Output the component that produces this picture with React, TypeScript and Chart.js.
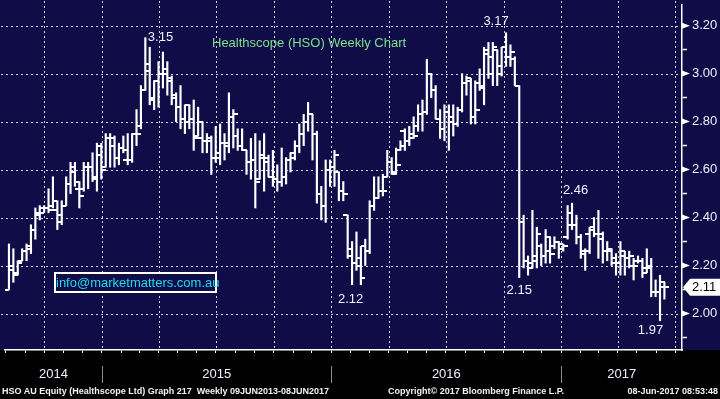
import React, { useEffect, useRef } from 'react';
import { Chart, registerables } from 'chart.js';

Chart.register(...registerables);

// ---------- data (weekly OHLC, Healthscope HSO, from listing Aug 2014 to Jun 2017) ----------
const opens = [
  2.10, 2.18, 2.17, 2.22, 2.26, 2.28, 2.35, 2.41, 2.44, 2.44,
  2.45, 2.43, 2.41, 2.45, 2.54, 2.59, 2.52, 2.52, 2.61, 2.61,
  2.56, 2.66, 2.61, 2.73, 2.70, 2.65, 2.69, 2.64, 2.64, 2.75,
  2.78, 2.93, 3.01, 2.90, 2.97, 3.00, 3.02, 2.98, 2.90, 2.86,
  2.81, 2.87, 2.81, 2.74, 2.73, 2.72, 2.73, 2.65, 2.67, 2.71,
  2.70, 2.82, 2.74, 2.70, 2.68, 2.63, 2.64, 2.56, 2.66, 2.65,
  2.57, 2.56, 2.55, 2.57, 2.64, 2.67, 2.70, 2.75, 2.80, 2.83,
  2.75, 2.50, 2.45, 2.60, 2.61, 2.59, 2.51, 2.41, 2.27, 2.21,
  2.20, 2.28, 2.26, 2.45, 2.48, 2.51, 2.57, 2.63, 2.59, 2.68,
  2.76, 2.72, 2.75, 2.78, 2.83, 2.84, 3.00, 2.93, 2.81, 2.77,
  2.84, 2.80, 2.79, 2.85, 2.96, 2.97, 2.82, 2.96, 2.95, 3.08,
  3.00, 3.10, 3.00, 3.11, 3.07, 3.06, 2.95, 2.38, 2.22, 2.21,
  2.24, 2.28, 2.24, 2.26, 2.28, 2.30, 2.27, 2.32, 2.42, 2.37,
  2.32, 2.25, 2.33, 2.36, 2.33, 2.31, 2.26, 2.26, 2.21, 2.21,
  2.24, 2.23, 2.20, 2.22, 2.22, 2.19, 2.19, 2.09, 2.09, 2.11,
];
const highs = [
  2.29, 2.27, 2.22, 2.27, 2.29, 2.37, 2.44, 2.45, 2.45, 2.52,
  2.57, 2.47, 2.47, 2.57, 2.63, 2.63, 2.55, 2.63, 2.63, 2.67,
  2.71, 2.71, 2.75, 2.75, 2.74, 2.71, 2.74, 2.75, 2.75, 2.85,
  2.95, 3.15, 3.11, 2.97, 3.05, 3.09, 3.05, 2.99, 2.92, 2.95,
  2.87, 2.87, 2.89, 2.86, 2.80, 2.75, 2.74, 2.78, 2.79, 2.75,
  2.92, 2.85, 2.77, 2.77, 2.68, 2.73, 2.75, 2.72, 2.75, 2.66,
  2.68, 2.62, 2.69, 2.65, 2.67, 2.72, 2.79, 2.83, 2.88, 2.83,
  2.76, 2.53, 2.64, 2.64, 2.68, 2.59, 2.55, 2.41, 2.30, 2.34,
  2.28, 2.31, 2.47, 2.57, 2.57, 2.58, 2.68, 2.65, 2.69, 2.72,
  2.77, 2.78, 2.82, 2.87, 2.89, 3.06, 3.00, 2.95, 2.85, 2.87,
  2.87, 2.87, 2.86, 3.00, 2.99, 2.98, 2.97, 3.02, 3.11, 3.13,
  3.13, 3.10, 3.11, 3.17, 3.12, 3.07, 2.95, 2.41, 2.24, 2.43,
  2.36, 2.29, 2.35, 2.32, 2.32, 2.30, 2.29, 2.45, 2.46, 2.41,
  2.33, 2.27, 2.36, 2.40, 2.43, 2.34, 2.30, 2.27, 2.25, 2.30,
  2.26, 2.26, 2.23, 2.24, 2.23, 2.27, 2.23, 2.14, 2.16, 2.13,
];
const lows = [
  2.10, 2.13, 2.16, 2.22, 2.22, 2.25, 2.31, 2.39, 2.42, 2.42,
  2.44, 2.35, 2.37, 2.45, 2.50, 2.53, 2.44, 2.51, 2.52, 2.55,
  2.51, 2.56, 2.61, 2.61, 2.61, 2.62, 2.67, 2.62, 2.63, 2.70,
  2.77, 2.93, 2.87, 2.85, 2.86, 2.94, 2.91, 2.87, 2.80, 2.77,
  2.75, 2.77, 2.68, 2.74, 2.67, 2.67, 2.58, 2.63, 2.62, 2.64,
  2.67, 2.69, 2.68, 2.68, 2.58, 2.56, 2.44, 2.56, 2.51, 2.57,
  2.53, 2.51, 2.53, 2.54, 2.59, 2.64, 2.67, 2.70, 2.76, 2.64,
  2.46, 2.39, 2.38, 2.53, 2.53, 2.47, 2.47, 2.23, 2.12, 2.18,
  2.12, 2.20, 2.25, 2.43, 2.48, 2.49, 2.57, 2.58, 2.58, 2.68,
  2.68, 2.70, 2.73, 2.76, 2.76, 2.83, 2.90, 2.81, 2.73, 2.72,
  2.68, 2.74, 2.78, 2.84, 2.91, 2.79, 2.79, 2.93, 2.87, 2.98,
  2.95, 2.95, 2.99, 3.03, 3.03, 2.95, 2.15, 2.19, 2.16, 2.19,
  2.19, 2.20, 2.21, 2.21, 2.27, 2.23, 2.26, 2.31, 2.35, 2.29,
  2.23, 2.18, 2.25, 2.32, 2.23, 2.21, 2.22, 2.20, 2.16, 2.16,
  2.16, 2.19, 2.14, 2.21, 2.15, 2.17, 2.07, 2.07, 1.97, 2.06,
];
const closes = [
  2.20, 2.16, 2.21, 2.26, 2.27, 2.35, 2.42, 2.42, 2.44, 2.43,
  2.47, 2.38, 2.45, 2.54, 2.61, 2.55, 2.49, 2.61, 2.61, 2.57,
  2.70, 2.60, 2.73, 2.73, 2.65, 2.69, 2.68, 2.64, 2.75, 2.75,
  2.93, 3.04, 2.89, 2.97, 3.00, 3.00, 2.97, 2.91, 2.86, 2.81,
  2.80, 2.81, 2.73, 2.80, 2.72, 2.72, 2.65, 2.65, 2.71, 2.71,
  2.82, 2.83, 2.70, 2.68, 2.63, 2.64, 2.55, 2.65, 2.63, 2.57,
  2.56, 2.55, 2.57, 2.64, 2.65, 2.70, 2.75, 2.80, 2.83, 2.75,
  2.50, 2.45, 2.60, 2.61, 2.66, 2.51, 2.50, 2.24, 2.21, 2.23,
  2.15, 2.26, 2.45, 2.48, 2.51, 2.51, 2.63, 2.58, 2.62, 2.70,
  2.72, 2.73, 2.74, 2.83, 2.84, 3.00, 2.93, 2.81, 2.77, 2.84,
  2.82, 2.79, 2.85, 2.96, 2.98, 2.82, 2.85, 2.94, 3.10, 3.07,
  3.11, 3.03, 3.11, 3.07, 3.09, 2.95, 2.38, 2.22, 2.19, 2.22,
  2.33, 2.24, 2.32, 2.25, 2.30, 2.29, 2.28, 2.37, 2.37, 2.32,
  2.26, 2.26, 2.35, 2.33, 2.33, 2.26, 2.27, 2.23, 2.21, 2.26,
  2.23, 2.24, 2.20, 2.22, 2.17, 2.20, 2.09, 2.09, 2.13, 2.11,
];

// tick values / labels
const yTickValues = [1.9, 2.0, 2.1, 2.2, 2.3, 2.4, 2.5, 2.6, 2.7, 2.8, 2.9, 3.0, 3.1, 3.2];
const yearLabels = ['2014', '2015', '2016', '2017'];
const FIRST_BAR_DATE = Date.UTC(2014, 7, 6);

// highlighted extremes: bar index + which value
const annotations: { bar: number; field: 'high' | 'low' }[] = [
  { bar: 31, field: 'high' },
  { bar: 113, field: 'high' },
  { bar: 78, field: 'low' },
  { bar: 116, field: 'low' },
  { bar: 128, field: 'high' },
  { bar: 148, field: 'low' },
];

// ---------- styling ----------
const NAVY = '#0f0c48';
const GRID = '#d2d2dc';
const LABEL = '#eef2ff';
const FONT = "'Liberation Sans', Arial, sans-serif";
const X_MIN = -0.9;
const X_MAX = 153;
const Y_MIN = 1.848;
const Y_MAX = 3.286;
const annoOffsets = [
  { dx: 2.5, dy: 0, align: 'left' },
  { dx: -10, dy: -11, align: 'center' },
  { dx: -1.5, dy: 15, align: 'center' },
  { dx: 0, dy: 12.5, align: 'center' },
  { dx: 3.5, dy: -12.5, align: 'center' },
  { dx: -9.5, dy: 10, align: 'center' },
];

const WEEK = 7 * 86400000;
const weekIndex = (y: number, m: number, d = 1) => (Date.UTC(y, m, d) - FIRST_BAR_DATE) / WEEK;
const isMajor = (v: number) => Math.round(v * 10) % 2 === 0;

function buildXTicks() {
  const ticks: any[] = [];
  for (let y = 2014; y <= 2017; y++) {
    for (let m = 0; m < 12; m++) {
      const v = weekIndex(y, m, 1);
      if (v > X_MIN && v < X_MAX) ticks.push({ value: v, month: true, quarter: m % 3 === 0 });
    }
  }
  yearLabels.forEach((yl) => {
    const y = +yl;
    const a = Math.max(weekIndex(y, 0, 1), X_MIN);
    const b = Math.min(weekIndex(y + 1, 0, 1), X_MAX);
    ticks.push({ value: (a + b) / 2, yearLabel: yl });
  });
  ticks.sort((p, q) => p.value - q.value);
  return ticks;
}

function makeTickImage(side: 'left' | 'right') {
  const c = document.createElement('canvas');
  c.width = 9;
  c.height = 2;
  const g = c.getContext('2d')!;
  g.fillStyle = '#ffffff';
  if (side === 'left') g.fillRect(0, 0, 4.5, 2);
  else g.fillRect(4.5, 0, 4.5, 2);
  return c;
}

// dotted grid (2px dot, 3px gap): quarterly verticals, labelled horizontals
function drawDottedGrid(chart: any) {
  const { ctx, chartArea } = chart;
  const xs = chart.scales.x;
  const ys = chart.scales.y;
  ctx.save();
  ctx.fillStyle = GRID;
  const quarterVals: number[] = [];
  for (let y = 2014; y <= 2017; y++) {
    for (let m = 0; m < 12; m += 3) {
      const v = weekIndex(y, m, 1);
      if (v > X_MIN && v < X_MAX) quarterVals.push(v);
    }
  }
  quarterVals.forEach((v) => {
    const x = Math.round(xs.getPixelForValue(v));
    for (let y = 1; y < chartArea.bottom - 1; y += 5) ctx.fillRect(x, y, 1, 2);
  });
  yTickValues.filter(isMajor).forEach((v) => {
    const y = Math.round(ys.getPixelForValue(v));
    for (let x = 1; x < chartArea.right - 1; x += 5) ctx.fillRect(x, y, 2, 1);
  });
  ctx.restore();
}

const decorPlugin = {
  id: 'decor',
  beforeDraw(chart: any) {
    const { ctx, chartArea, width, height } = chart;
    ctx.save();
    ctx.fillStyle = NAVY;
    ctx.fillRect(0, 0, width, chartArea.bottom);
    ctx.fillStyle = '#000000';
    ctx.fillRect(0, chartArea.bottom, width, height - chartArea.bottom);
    ctx.restore();
    drawDottedGrid(chart);
  },
  afterDraw(chart: any) {
    const { ctx, chartArea } = chart;
    const xs = chart.scales.x;
    const ys = chart.scales.y;
    ctx.save();
    // right-axis triangle markers at labelled ticks
    ctx.fillStyle = '#ffffff';
    yTickValues.filter(isMajor).forEach((v) => {
      const y = ys.getPixelForValue(v);
      ctx.beginPath();
      ctx.moveTo(chartArea.right, y - 3);
      ctx.lineTo(chartArea.right + 8, y);
      ctx.lineTo(chartArea.right, y + 3);
      ctx.closePath();
      ctx.fill();
    });
    // year separators in the date band
    ctx.fillStyle = '#8c8c8c';
    yearLabels.slice(1).forEach((yl) => {
      const x = Math.round(xs.getPixelForValue(weekIndex(+yl, 0, 1)));
      ctx.fillRect(x, chartArea.bottom + 16, 1, 17);
    });
    // value annotations
    ctx.font = `13px ${FONT}`;
    ctx.fillStyle = LABEL;
    ctx.textBaseline = 'middle';
    annotations.forEach((a, k) => {
      const val = a.field === 'high' ? highs[a.bar] : lows[a.bar];
      const o = annoOffsets[k];
      ctx.textAlign = o.align as CanvasTextAlign;
      ctx.fillText(val.toFixed(2), xs.getPixelForValue(a.bar) + o.dx, ys.getPixelForValue(val) + o.dy);
    });
    // last price box
    const last = closes[closes.length - 1];
    const py = ys.getPixelForValue(last);
    const x0 = chartArea.right + 1;
    ctx.beginPath();
    ctx.moveTo(x0, py);
    ctx.lineTo(x0 + 7, py - 8.5);
    ctx.lineTo(chart.width, py - 8.5);
    ctx.lineTo(chart.width, py + 8.5);
    ctx.lineTo(x0 + 7, py + 8.5);
    ctx.closePath();
    ctx.fillStyle = '#ffffff';
    ctx.fill();
    ctx.fillStyle = '#000000';
    ctx.textAlign = 'left';
    ctx.fillText(last.toFixed(2), chartArea.right + 10, py + 0.5);
    ctx.restore();
  },
};

export default function App() {
  const ref = useRef<HTMLCanvasElement>(null);

  useEffect(() => {
    document.body.style.margin = '0';
    const openImg = makeTickImage('left');
    const closeImg = makeTickImage('right');
    const xTicks = buildXTicks();

    const chart = new Chart(ref.current!, {
      type: 'bar',
      data: {
        datasets: [
          {
            type: 'bar',
            label: 'High-Low',
            data: highs.map((h, i) => ({ x: i, y: [lows[i], h] })) as any,
            backgroundColor: '#ffffff',
            barThickness: 1.5,
            grouped: false,
          } as any,
          {
            type: 'line',
            label: 'Open',
            data: opens.map((o, i) => ({ x: i, y: o })),
            showLine: false,
            fill: false,
            pointStyle: openImg,
            pointRadius: 4,
            pointHoverRadius: 4,
          } as any,
          {
            type: 'line',
            label: 'Close',
            data: closes.map((c, i) => ({ x: i, y: c })),
            showLine: false,
            fill: false,
            pointStyle: closeImg,
            pointRadius: 4,
            pointHoverRadius: 4,
          } as any,
        ],
      },
      options: {
        responsive: false,
        animation: false,
        events: [],
        layout: { padding: 0 },
        plugins: {
          legend: { display: false },
          tooltip: { enabled: false },
          title: { display: false },
        },
        scales: {
          x: {
            type: 'linear',
            min: X_MIN,
            max: X_MAX,
            offset: false,
            afterBuildTicks: (s: any) => {
              s.ticks = xTicks.map((t) => ({ ...t }));
            },
            afterFit: (s: any) => {
              s.height = 49;
              s.paddingLeft = 0;
              s.paddingRight = 0;
            },
            grid: {
              offset: false,
              drawOnChartArea: false,
              drawTicks: true,
              tickLength: 3,
              tickWidth: 1,
              tickColor: (c: any) => (c.tick && c.tick.month ? '#ffffff' : 'transparent'),
            },
            border: { display: true, color: '#ffffff', width: 1.5 },
            ticks: {
              autoSkip: false,
              maxRotation: 0,
              minRotation: 0,
              padding: 14,
              color: LABEL,
              font: { family: FONT, size: 13 },
              callback: (_v: any, i: number, ticks: any[]) => ticks[i].yearLabel || '',
            },
          } as any,
          y: {
            type: 'linear',
            position: 'right',
            min: Y_MIN,
            max: Y_MAX,
            afterBuildTicks: (s: any) => {
              s.ticks = yTickValues.map((v) => ({ value: v }));
            },
            afterFit: (s: any) => {
              s.width = 38;
              s.paddingTop = 0;
              s.paddingBottom = 0;
            },
            grid: {
              drawOnChartArea: false,
              drawTicks: true,
              tickLength: 5,
              tickWidth: 1.5,
              tickColor: (c: any) => (c.tick && !isMajor(c.tick.value) ? '#ffffff' : 'transparent'),
            },
            border: { display: true, color: '#ffffff', width: 1.5 },
            ticks: {
              padding: 5,
              color: LABEL,
              font: { family: FONT, size: 13 },
              callback: (v: any) => (isMajor(v) ? Number(v).toFixed(2) : ''),
            },
          } as any,
        },
      },
      plugins: [decorPlugin],
    });
    return () => chart.destroy();
  }, []);

  const footStyle: React.CSSProperties = {
    position: 'absolute',
    top: 386,
    fontFamily: FONT,
    fontSize: 9,
    fontWeight: 'bold',
    lineHeight: '11px',
    color: '#f2f2f2',
    whiteSpace: 'nowrap',
  };

  return (
    <div style={{ position: 'absolute', left: 0, top: 0, width: 720, height: 399, overflow: 'hidden', background: '#000' }}>
      <canvas ref={ref} width={720} height={399} style={{ display: 'block', width: 720, height: 399 }} />
      <div
        style={{
          position: 'absolute', left: 212, top: 35, fontFamily: FONT, fontSize: 13, lineHeight: '15px',
          color: '#7ee08a', whiteSpace: 'nowrap',
        }}
      >
        Healthscope (HSO) Weekly Chart
      </div>
      <div
        style={{
          position: 'absolute', left: 54, top: 272, width: 163, height: 21, boxSizing: 'border-box',
          border: '2px solid #ffffff', background: NAVY, color: '#1adcec', fontFamily: FONT, fontSize: 13,
          lineHeight: '17px', textAlign: 'center', whiteSpace: 'nowrap',
        }}
      >
        info@marketmatters.com.au
      </div>
      <div style={{ ...footStyle, left: 2 }}>HSO AU Equity (Healthscope Ltd) Graph 217&nbsp;&nbsp;Weekly 09JUN2013-08JUN2017</div>
      <div style={{ ...footStyle, left: 388 }}>Copyright© 2017 Bloomberg Finance L.P.</div>
      <div style={{ ...footStyle, right: 2 }}>08-Jun-2017 08:53:48</div>
    </div>
  );
}
